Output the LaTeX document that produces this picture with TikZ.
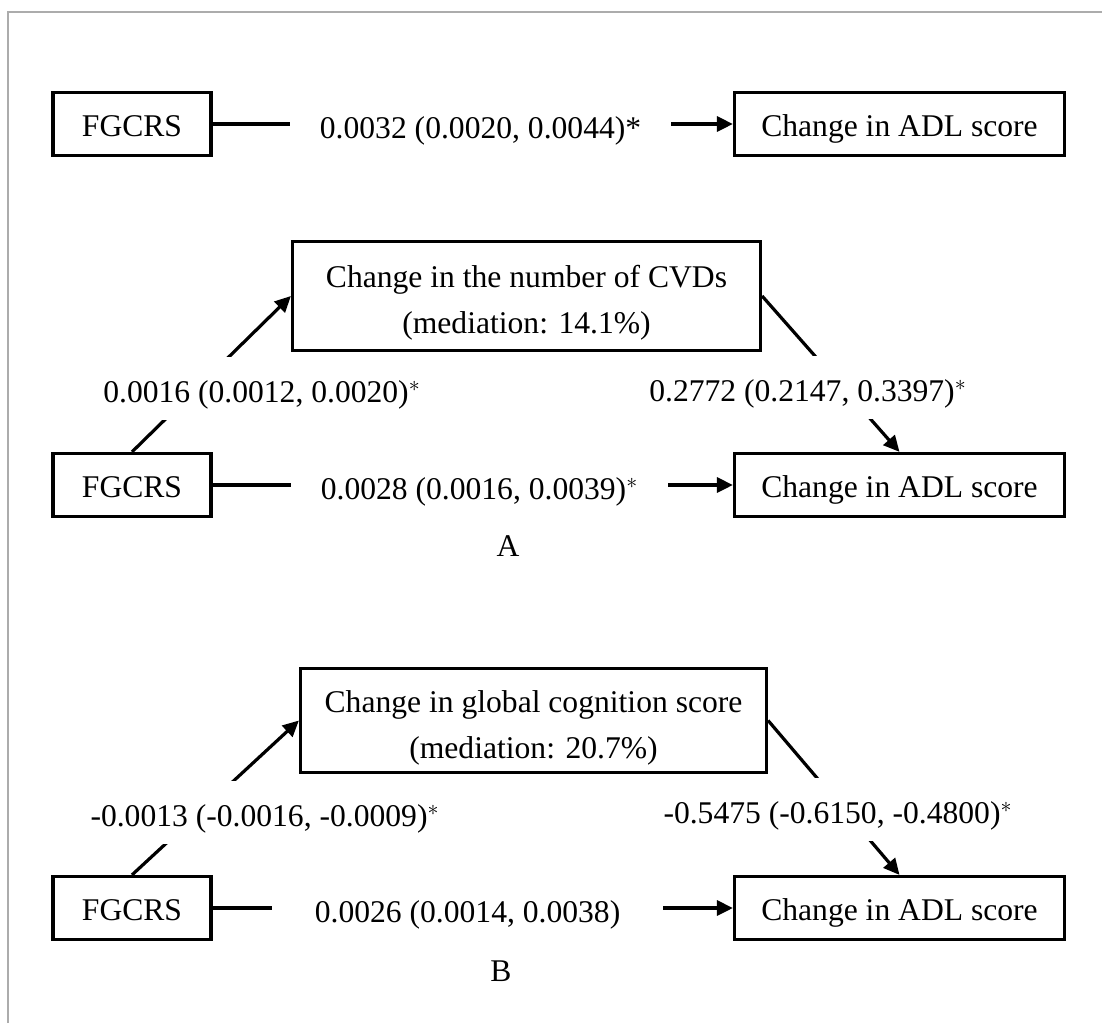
\documentclass[tikz,border=0pt]{standalone}
\usepackage{fontspec}
\setmainfont{Liberation Serif}
\usetikzlibrary{arrows.meta}
\newcommand{\figfont}{\fontsize{15.8}{23}\selectfont}
\newcommand{\medstrut}{\rule{0pt}{18pt}}
\definecolor{framegray}{RGB}{172,172,172}

\begin{document}
\begin{tikzpicture}[line join=miter,>={Triangle[length=8pt,width=7.5pt]},x=0.5pt,y=-0.5pt,font=\figfont,
  box/.style={draw,line width=1.6pt,inner sep=0pt,minimum height=31.5pt,text height=12pt,text depth=0pt},
  medbox/.style={draw,line width=1.6pt,inner sep=0pt,align=center},
  link/.style={line width=1.6pt},
  coef/.style={fill=white,inner xsep=15pt,inner ysep=0pt,text height=16pt,text depth=2pt},
  diagcoef/.style={fill=white,inner sep=0pt,text height=22.5pt,text depth=9pt,anchor=base}]
\useasboundingbox (0,0) rectangle (1102,1023);
\draw[framegray,line width=0.75pt] (8,1023) -- (8,12) -- (1102,12);
% total effect
\node[box,minimum width=79pt] (F1) at (132,124) {FGCRS};
\node[box,minimum width=165pt] (A1) at (899.5,124) {Change in ADL score};
\draw[link,->] (F1) -- node[coef,pos=0.515] {0.0032 (0.0020, 0.0044)*} (A1);
% A
\node[box,minimum width=79pt] (F2) at (132,485) {FGCRS};
\node[box,minimum width=165pt] (A2) at (899.5,485) {Change in ADL score};
\node[medbox,minimum width=234pt,minimum height=54.5pt] (M1) at (526.5,296) {\medstrut Change in the number of CVDs\\(mediation: 14.1\%)};
\draw[link,->] (F2) -- node[coef,pos=0.513] {0.0028 (0.0016, 0.0039)$^*$} (A2);
\draw[link,->] (F2.north) -- (M1.west);
\draw[link,->] (M1.east) -- (A2.north);
\node[diagcoef] (cA1) at (262,402) {0.0016 (0.0012, 0.0020)$^*$};
\node[diagcoef] (cA2) at (808,401) {0.2772 (0.2147, 0.3397)$^*$};
\node (labA) at (508,546) {A};
% B
\node[box,minimum width=79pt] (F3) at (132,908) {FGCRS};
\node[box,minimum width=165pt] (A3) at (899.5,908) {Change in ADL score};
\node[medbox,minimum width=233pt,minimum height=52pt] (M2) at (533.5,720.5) {\medstrut Change in global cognition score\\(mediation: 20.7\%)};
\draw[link,->] (F3) -- node[coef,pos=0.49,inner xsep=21.5pt] {0.0026 (0.0014, 0.0038)} (A3);
\draw[link,->] (F3.north) -- (M2.west);
\draw[link,->] (M2.east) -- (A3.north);
\node[diagcoef] (cB1) at (265,826) {-0.0013 (-0.0016, -0.0009)$^*$};
\node[diagcoef] (cB2) at (838,823) {-0.5475 (-0.6150, -0.4800)$^*$};
\node (labB) at (501,971) {B};
\end{tikzpicture}
\end{document}
